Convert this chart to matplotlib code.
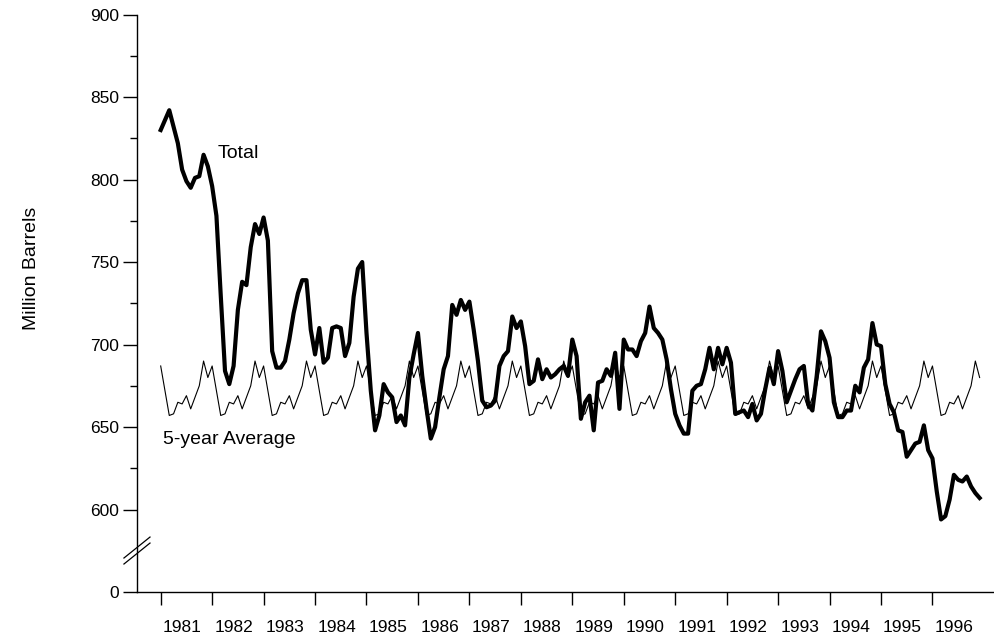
import numpy as np
import matplotlib
matplotlib.use("Agg")
import matplotlib.pyplot as plt

plt.rcParams['font.family'] = ['Liberation Sans', 'DejaVu Sans']

# monthly totals, Jan 1981 .. Dec 1996 (million barrels)
years = list(range(1981, 1997))
total = [
    830, 836, 842, 832, 822, 806, 799, 795, 801, 802, 815, 808,   # 1981
    796, 778, 730, 684, 676, 687, 721, 738, 736, 759, 773, 767,   # 1982
    777, 763, 696, 686, 686, 690, 703, 719, 731, 739, 739, 709,   # 1983
    694, 710, 689, 692, 710, 711, 710, 693, 701, 729, 746, 750,   # 1984
    707, 672, 648, 657, 676, 671, 668, 653, 657, 651, 680, 694,   # 1985
    707, 681, 661, 643, 650, 668, 685, 693, 724, 718, 727, 721,   # 1986
    726, 709, 690, 666, 662, 663, 666, 687, 693, 696, 717, 710,   # 1987
    714, 699, 676, 678, 691, 679, 685, 680, 682, 685, 687, 681,   # 1988
    703, 693, 655, 665, 669, 648, 677, 678, 685, 681, 695, 661,   # 1989
    703, 697, 697, 693, 702, 707, 723, 710, 707, 703, 691, 673,   # 1990
    658, 651, 646, 646, 672, 675, 676, 685, 698, 685, 698, 688,   # 1991
    698, 689, 658, 659, 660, 656, 664, 654, 658, 673, 686, 676,   # 1992
    696, 684, 665, 672, 679, 685, 687, 664, 660, 681, 708, 702,   # 1993
    692, 665, 656, 656, 660, 660, 675, 671, 686, 691, 713, 700,   # 1994
    699, 676, 664, 659, 648, 647, 632, 636, 640, 641, 651, 636,   # 1995
    631, 611, 594, 596, 606, 621, 618, 617, 620, 614, 610, 607,   # 1996
]
# 5-year average by calendar month (same pattern drawn every year)
avg_month = [687, 672, 657, 658, 665, 664, 669, 661, 668, 675, 690, 680]

x = np.array([y + m / 12 for y in years for m in range(12)])
avg = np.tile(avg_month, len(years))

# broken axis: the "0" tick sits one step below 600
y_ticks = [550, 600, 650, 700, 750, 800, 850, 900]
y_labels = ['0', '600', '650', '700', '750', '800', '850', '900']

fig = plt.figure(figsize=(9.94, 6.37), dpi=100)
ax = fig.add_axes([0.1378, 0.0706, 0.8622, 0.9066])

ax.plot(x, avg, color='black', lw=0.8)
ax.plot(x, total, color='black', lw=3.0, solid_joinstyle='round')

ax.set_xlim(1980.539, 1997.196)
ax.set_ylim(550, 900)

ax.spines['top'].set_visible(False)
ax.spines['right'].set_visible(False)
ax.spines['left'].set_linewidth(1.0)
ax.spines['bottom'].set_linewidth(1.0)

ax.set_yticks(y_ticks)
ax.set_yticklabels(y_labels)
ax.set_yticks([625, 675, 725, 775, 825, 875], minor=True)
ax.tick_params(axis='y', which='major', length=10, width=1, pad=3, labelsize=12.5)
ax.tick_params(axis='y', which='minor', length=5, width=1)

ax.set_xticks(years)
ax.set_xticklabels([])
ax.set_xticks([y + 0.42 for y in years], minor=True)
ax.set_xticklabels([str(y) for y in years], minor=True)
ax.tick_params(axis='x', which='major', length=9.5, width=1)
ax.tick_params(axis='x', which='minor', length=0, pad=20, labelsize=12.5)

# axis break marks (two parallel slashes across the y axis)
for off in (0.0, -0.0104):
    ax.plot([-0.0152, 0.0152], [0.0589 + off, 0.0952 + off],
            transform=ax.transAxes, color='black', lw=0.9, clip_on=False)

ax.text(1982.114, 816, 'Total', fontsize=14, va='center', ha='left')
ax.text(1981.045, 642.4, '5-year Average', fontsize=14, va='center', ha='left')

fig.text(31 / 994, 1 - 268 / 637, 'Million Barrels', rotation=90,
         ha='center', va='center', fontsize=14)

fig.savefig('out.png', dpi=100)
